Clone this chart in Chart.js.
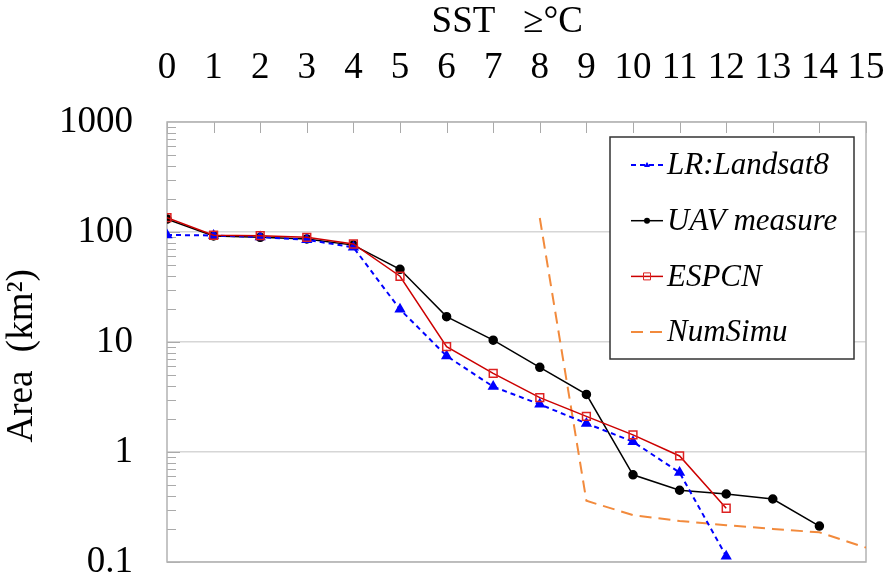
<!DOCTYPE html>
<html>
<head>
<meta charset="utf-8">
<script src="https://cdn.jsdelivr.net/npm/chart.js@4/dist/chart.umd.min.js"></script>
<style>
  html, body { margin: 0; padding: 0; background: #fff; }
  #wrap { width: 886px; height: 588px; }
</style>
</head>
<body>
<div id="wrap"><canvas id="myChart" width="886" height="588"></canvas></div>
<script>
// SST thresholds (top axis) and the area (km2) above each threshold
var sst = [0, 1, 2, 3, 4, 5, 6, 7, 8, 9, 10, 11, 12, 13, 14, 15];
var landsat = [94, 93, 90, 85, 72.6, 19.8, 7.46, 3.93, 2.71, 1.82, 1.24, 0.65, 0.113, null, null, null];
var uav = [131, 92, 89.5, 86.4, 76, 45.8, 17, 10.4, 5.89, 3.34, 0.62, 0.449, 0.415, 0.374, 0.212, null];
var espcn = [135, 93.4, 92.5, 89.5, 77.8, 39.6, 9.06, 5.19, 3.12, 2.11, 1.43, 0.92, 0.308, null, null, null];
var numSimu = [null, null, null, null, null, null, null, null, 134, 0.36, 0.267, 0.236, 0.216, 0.2, 0.186, 0.135];
var yTicks = [0.1, 1, 10, 100, 1000];

var serif = "'Liberation Serif', 'Times New Roman', serif";

function pts(arr) {
    var out = [];
    for (var i = 0; i < sst.length; i++) {
        if (arr[i] !== null) out.push({x: sst[i], y: arr[i]});
    }
    return out;
}

// frame + inward tick marks
var framePlugin = {
    id: 'frame',
    beforeDatasetsDraw: function (chart) {
        var ctx = chart.ctx, a = chart.chartArea;
        var xs = chart.scales.x, ys = chart.scales.y;
        ctx.save();
        ctx.strokeStyle = '#aaaaaa';
        ctx.lineWidth = 1;
        ctx.beginPath();
        for (var i = 0; i < sst.length; i++) {
            var px = Math.round(xs.getPixelForValue(sst[i])) + 0.5;
            ctx.moveTo(px, a.top);
            ctx.lineTo(px, a.top + 11);
        }
        for (var d = 0; d < yTicks.length - 1; d++) {
            for (var k = 2; k <= 9; k++) {
                var py = Math.round(ys.getPixelForValue(yTicks[d] * k)) + 0.5;
                ctx.moveTo(a.left, py);
                ctx.lineTo(a.left + 9, py);
            }
            var pm = Math.round(ys.getPixelForValue(yTicks[d])) + 0.5;
            ctx.moveTo(a.left, pm);
            ctx.lineTo(a.left + 13, pm);
        }
        ctx.stroke();
        ctx.strokeStyle = '#b3b3b3';
        ctx.lineWidth = 1.5;
        ctx.strokeRect(a.left, a.top, a.right - a.left, a.bottom - a.top);
        ctx.restore();
    }
};

// boxed legend inside the plot, top right
var legendPlugin = {
    id: 'boxLegend',
    afterDraw: function (chart) {
        var ctx = chart.ctx, a = chart.chartArea;
        var bx = a.right - 256, by = a.top + 15, bw = 244, bh = 222;
        ctx.save();
        ctx.fillStyle = '#fff';
        ctx.fillRect(bx, by, bw, bh);
        ctx.strokeStyle = '#333';
        ctx.lineWidth = 1.5;
        ctx.strokeRect(bx, by, bw, bh);
        chart.data.datasets.forEach(function (ds, i) {
            var cy = by + 28 + i * 55.7;
            var x0 = bx + 21, x1 = bx + 53, xm = (x0 + x1) / 2;
            ctx.strokeStyle = ds.borderColor;
            ctx.lineWidth = ds.borderWidth;
            ctx.setLineDash(ds.borderDash || []);
            ctx.beginPath();
            ctx.moveTo(x0, cy);
            ctx.lineTo(x1, cy);
            ctx.stroke();
            ctx.setLineDash([]);
            if (ds.pointRadius > 0) {
                ctx.fillStyle = ds.pointBackgroundColor;
                ctx.strokeStyle = ds.pointBorderColor;
                ctx.lineWidth = 1;
                ctx.beginPath();
                if (ds.pointStyle === 'triangle') {
                    ctx.moveTo(xm, cy - 3);
                    ctx.lineTo(xm + 3, cy + 2);
                    ctx.lineTo(xm - 3, cy + 2);
                    ctx.closePath();
                    ctx.fill();
                } else if (ds.pointStyle === 'rect') {
                    ctx.rect(xm - 3.5, cy - 3.5, 7, 7);
                    ctx.fill();
                    ctx.stroke();
                } else {
                    ctx.arc(xm, cy, 3, 0, Math.PI * 2);
                    ctx.fill();
                }
            }
            ctx.fillStyle = '#000';
            ctx.font = 'italic 31px ' + serif;
            ctx.textBaseline = 'middle';
            ctx.textAlign = 'left';
            ctx.fillText(ds.label, bx + 57, cy + 1);
        });
        ctx.restore();
    }
};

var ctx = document.getElementById('myChart').getContext('2d');
var myChart = new Chart(ctx, {
    type: 'line',
    data: {
        datasets: [{
            label: 'LR:Landsat8',
            data: pts(landsat),
            borderColor: '#0000ff',
            borderWidth: 2,
            borderDash: [5, 4],
            pointStyle: 'triangle',
            pointRadius: 4.5,
            pointBackgroundColor: '#0000ff',
            pointBorderColor: '#0000ff',
            order: 1
        }, {
            label: 'UAV measure',
            data: pts(uav),
            borderColor: '#000000',
            borderWidth: 1.5,
            pointStyle: 'circle',
            pointRadius: 4,
            pointBackgroundColor: '#000000',
            pointBorderColor: '#000000',
            order: 2
        }, {
            label: 'ESPCN',
            data: pts(espcn),
            borderColor: '#cc0000',
            borderWidth: 1.5,
            pointStyle: 'rect',
            pointRadius: 5.5,
            pointBackgroundColor: 'rgba(255,255,255,0)',
            pointBorderColor: '#dd2222',
            pointBorderWidth: 1.5,
            order: 0
        }, {
            label: 'NumSimu',
            data: pts(numSimu),
            borderColor: '#f28a3c',
            borderWidth: 2,
            borderDash: [12, 7],
            pointRadius: 0,
            pointBackgroundColor: '#f28a3c',
            pointBorderColor: '#f28a3c',
            order: 3
        }]
    },
    options: {
        responsive: false,
        maintainAspectRatio: false,
        animation: false,
        layout: { padding: { left: 0, top: 0, right: 20, bottom: 26 } },
        plugins: {
            legend: { display: false },
            tooltip: { enabled: false }
        },
        scales: {
            x: {
                type: 'linear',
                position: 'top',
                min: 0,
                max: 15,
                afterFit: function (s) {
                    s.height = 122;
                    s.paddingLeft = 0;
                    s.paddingRight = 0;
                },
                ticks: {
                    stepSize: 1,
                    color: '#000',
                    padding: 24,
                    maxRotation: 0,
                    autoSkip: false,
                    font: { family: serif, size: 37 }
                },
                grid: { display: false },
                border: { display: false },
                title: {
                    display: true,
                    text: 'SST   \u2265\u00B0C  ',
                    color: '#000',
                    padding: { top: 0, bottom: 0 },
                    font: { family: serif, size: 37 }
                }
            },
            y: {
                type: 'logarithmic',
                min: 0.1,
                max: 1000,
                afterFit: function (s) {
                    s.width = 167;
                    s.paddingTop = 0;
                    s.paddingBottom = 0;
                },
                afterBuildTicks: function (s) {
                    s.ticks = yTicks.map(function (v) { return {value: v}; });
                },
                ticks: {
                    color: '#000',
                    padding: 34,
                    font: { family: serif, size: 37 },
                    callback: function (v) { return String(v); }
                },
                grid: { color: '#d6d6d6', lineWidth: 1.5, drawTicks: false },
                border: { display: false },
                title: {
                    display: true,
                    text: 'Area  (km\u00B2)   ',
                    color: '#000',
                    padding: { top: 0, bottom: 0 },
                    font: { family: serif, size: 37 }
                }
            }
        }
    },
    plugins: [framePlugin, legendPlugin]
});
</script>
</body>
</html>
